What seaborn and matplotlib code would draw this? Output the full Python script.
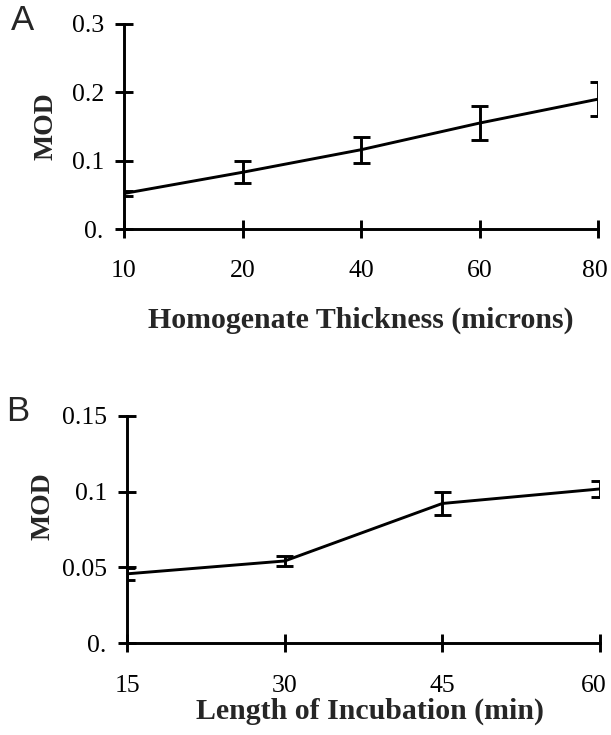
import matplotlib
matplotlib.use("Agg")
import matplotlib.pyplot as plt
import matplotlib.transforms as mtransforms
import seaborn as sns
import pandas as pd

# ---- data ----
thickness = ["10", "20", "40", "60", "80"]
mod_a = [0.052, 0.083, 0.116, 0.155, 0.190]
err_a = [0.003, 0.016, 0.019, 0.025, 0.025]
yticks_a = [0.0, 0.1, 0.2, 0.3]
yticklabels_a = ["0.", "0.1", "0.2", "0.3"]

incubation = ["15", "30", "45", "60"]
mod_b = [0.0457, 0.0542, 0.0922, 0.1018]
err_b = [0.0039, 0.0033, 0.0077, 0.0050]
yticks_b = [0.0, 0.05, 0.1, 0.15]
yticklabels_b = ["0.", "0.05", "0.1", "0.15"]

sns.set_theme(style="ticks")
plt.rcParams["font.family"] = ["Liberation Serif", "DejaVu Serif"]

W, H = 611, 735
fig = plt.figure(figsize=(W / 100, H / 100), dpi=100)
rectA = (124, 24, 598, 229)   # left, top, right, bottom in pixels
rectB = (127, 416, 600, 643)


def add_ax(r):
    l, t, rr, b = r
    return fig.add_axes([l / W, 1 - b / H, (rr - l) / W, (b - t) / H])


axA = add_ax(rectA)
axB = add_ax(rectB)

LW = 2.1
TICK_FS = 18.5
LABEL_FS = 21.5
CAP_PX = 8.5


def draw(ax, rect, cats, vals, errs, yticks, yticklabels, xlabel, xpad):
    pos = list(range(len(cats)))
    df = pd.DataFrame({"x": pos, "y": vals})
    sns.lineplot(data=df, x="x", y="y", ax=ax, color="black", linewidth=LW,
                 sort=False, legend=False)
    lo = [v - e for v, e in zip(vals, errs)]
    hi = [v + e for v, e in zip(vals, errs)]
    ax.vlines(pos, lo, hi, colors="black", linewidth=LW)
    half = CAP_PX / (rect[2] - rect[0]) * (len(cats) - 1)
    ax.hlines(lo + hi, [p - half for p in pos] * 2, [p + half for p in pos] * 2,
              colors="black", linewidth=LW)
    ax.set_xlim(0, len(cats) - 1)
    ax.set_xticks(pos)
    ax.set_xticklabels(cats)
    ax.set_ylim(yticks[0], yticks[-1])
    ax.set_yticks(yticks)
    ax.set_yticklabels(yticklabels)
    for s in ("top", "right"):
        ax.spines[s].set_visible(False)
    for s in ("left", "bottom"):
        ax.spines[s].set_linewidth(LW)
        ax.spines[s].set_color("black")
    ax.tick_params(axis="both", direction="inout", length=13, width=LW,
                   colors="black", labelsize=TICK_FS)
    ax.tick_params(axis="y", pad=8)
    ax.tick_params(axis="x", pad=xpad)
    ax.set_xlabel(xlabel, fontsize=LABEL_FS, fontweight="bold")
    ax.set_ylabel("MOD", fontsize=20, fontweight="bold")
    ax.patch.set_visible(False)


draw(axA, rectA, thickness, mod_a, err_a, yticks_a, yticklabels_a,
     "Homogenate Thickness (microns)", 15.5)
draw(axB, rectB, incubation, mod_b, err_b, yticks_b, yticklabels_b,
     "Length of Incubation (min)", 16.5)


def place_labels(ax, rect, xl_center, yl_center):
    l, t, r, b = rect
    ax.xaxis.set_label_coords((xl_center[0] - l) / (r - l),
                              -(xl_center[1] - b) / (b - t))
    ax.yaxis.set_label_coords(-(l - yl_center[0]) / (r - l),
                              (b - yl_center[1]) / (b - t))
    ax.xaxis.label.set_va("center")
    ax.yaxis.label.set_va("center")


place_labels(axA, rectA, (361, 320), (46, 126))
place_labels(axB, rectB, (370, 711), (43, 506))


def nudge_last(ax, dx_px):
    lab = ax.get_xticklabels()[-1]
    off = mtransforms.ScaledTranslation(dx_px / 100, 0, fig.dpi_scale_trans)
    lab.set_transform(lab.get_transform() + off)


nudge_last(axA, -3)
nudge_last(axB, -6)

fig.text(11 / W, 1 - 21 / H, "A", fontsize=25, family="Liberation Sans",
         ha="left", va="center")
fig.text(6 / W, 1 - 411 / H, "B", fontsize=25, family="Liberation Sans",
         ha="left", va="center")

fig.savefig("out.png", dpi=100, facecolor="white")
